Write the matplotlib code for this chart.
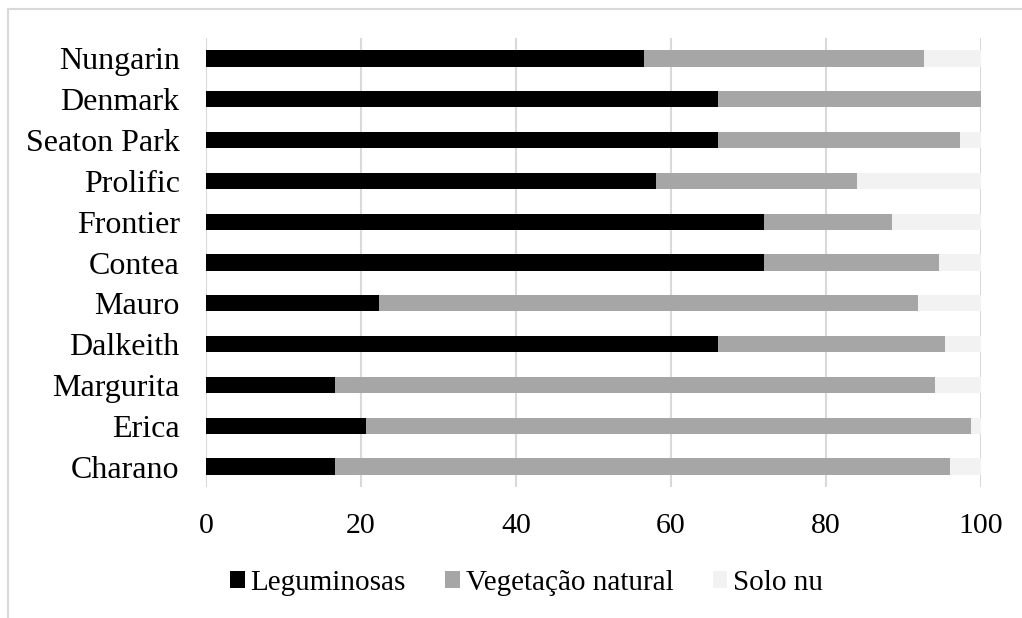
#!/usr/bin/env python3
"""Horizontal stacked bars: land cover share per cultivar."""

import matplotlib

matplotlib.use("Agg")
import matplotlib.pyplot as plt
from matplotlib.patches import Rectangle

cultivars = [
    "Charano", "Erica", "Margurita", "Dalkeith", "Mauro", "Contea",
    "Frontier", "Prolific", "Seaton Park", "Denmark", "Nungarin",
]
leguminosas = [16.6, 20.6, 16.6, 66.0, 22.3, 72.0, 72.0, 58.0, 66.0, 66.0, 56.5]
vegetacao = [79.4, 78.1, 77.4, 29.3, 69.6, 22.6, 16.5, 26.0, 31.3, 34.0, 36.1]
solo_nu = [4.0, 1.3, 6.0, 4.7, 8.1, 5.4, 11.5, 16.0, 2.7, 0.0, 7.4]
series_names = ["Leguminosas", "Vegetação natural", "Solo nu"]
x_ticks = [0, 20, 40, 60, 80, 100]

plt.rcParams["font.family"] = ["Liberation Serif", "DejaVu Serif"]

W, H = 1022, 618
fig = plt.figure(figsize=(W / 100, H / 100), dpi=100)
ax = fig.add_axes([206 / W, 1 - 487 / H, (981 - 206) / W, (487 - 38) / H])

colors = ["#000000", "#a6a6a6", "#f2f2f2"]
y = list(range(len(cultivars)))
left = [0.0] * len(cultivars)
for name, vals, col in zip(series_names, [leguminosas, vegetacao, solo_nu], colors):
    ax.barh(y, vals, left=left, height=0.4, color=col, label=name, zorder=3)
    left = [a + b for a, b in zip(left, vals)]

ax.set_xlim(0, 100)
ax.set_ylim(-0.5, len(cultivars) - 0.5)
ax.set_xticks(x_ticks)
ax.set_yticks(y)
ax.set_yticklabels(cultivars)
ax.tick_params(axis="both", length=0)
ax.tick_params(axis="x", pad=19, labelsize=21.5)
ax.tick_params(axis="y", pad=19, labelsize=23)
for s in ax.spines.values():
    s.set_visible(False)
ax.grid(True, axis="x", color="#d9d9d9", linewidth=1.5, zorder=0)

leg = fig.legend(
    loc="center left",
    bbox_to_anchor=(230 / W, 1 - 583 / H),
    ncol=3,
    frameon=False,
    fontsize=21,
    handlelength=0.5,
    handleheight=0.5,
    handletextpad=0.2,
    columnspacing=1.35,
    borderpad=0,
    borderaxespad=0,
)

# light outer frame (cut off at right and bottom edge)
fig.patches.append(
    Rectangle((8 / W, -0.1), 1.2, 1 - 9 / H + 0.1, transform=fig.transFigure,
              fill=False, edgecolor="#d9d9d9", linewidth=1.5, zorder=0)
)

fig.savefig("out.png", dpi=100)
